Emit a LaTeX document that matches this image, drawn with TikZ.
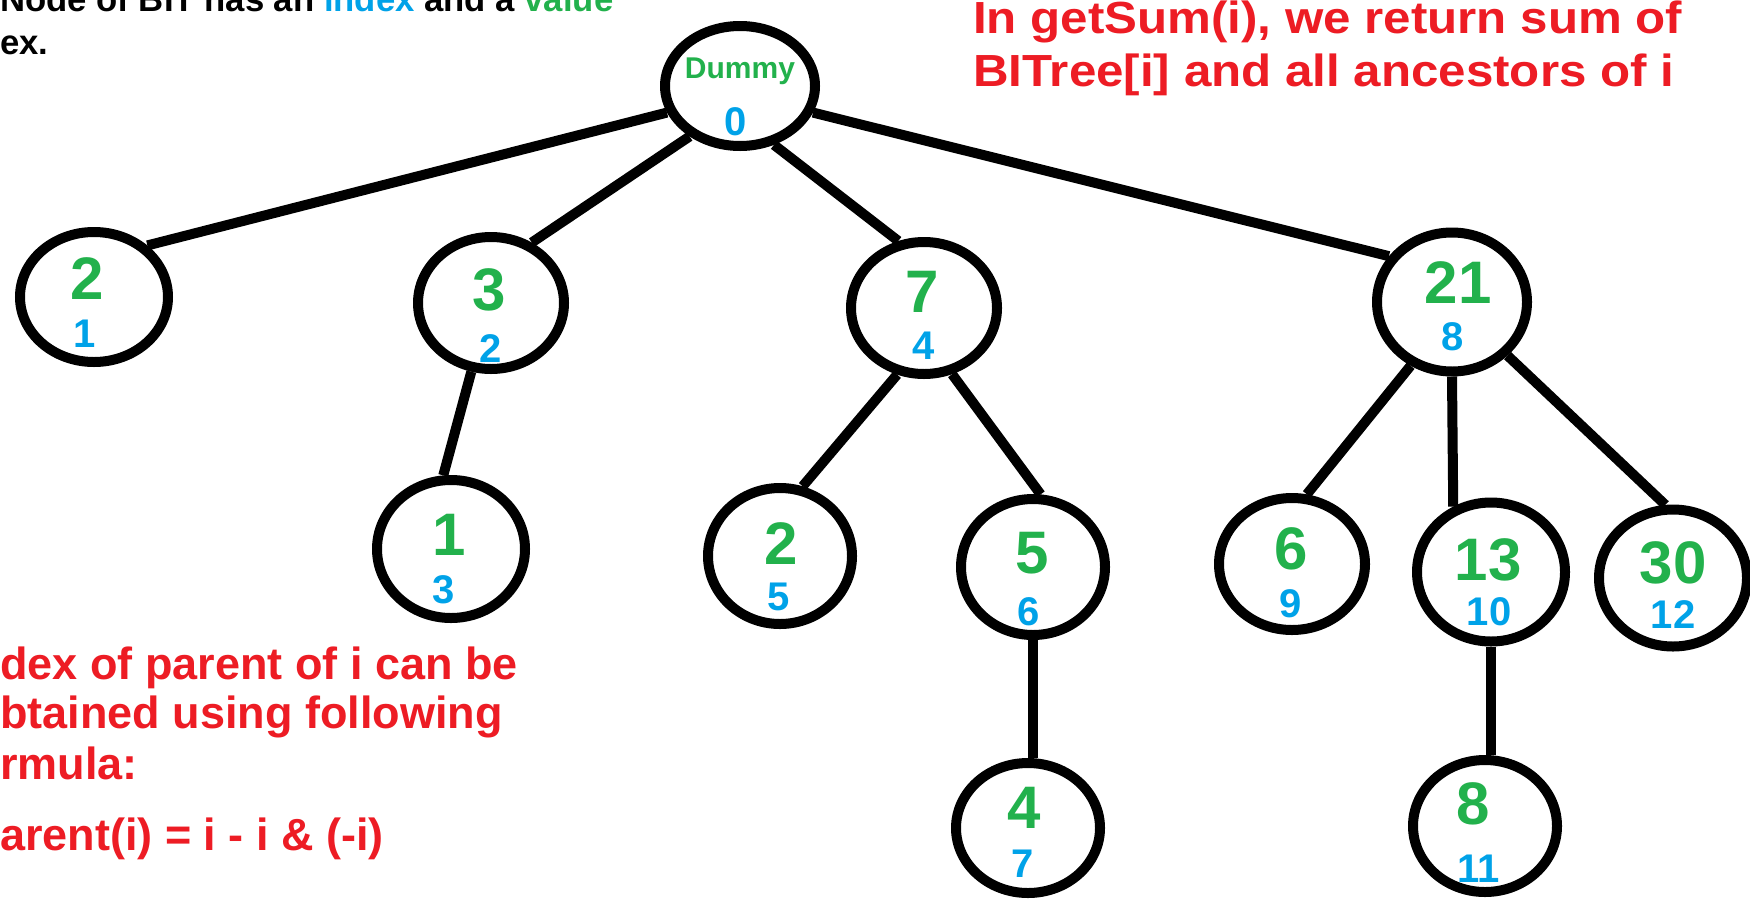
\documentclass[tikz,border=0pt]{standalone}
\usepackage{fontspec}
\setmainfont{Liberation Sans}
\newfontfamily\widefont[FakeStretch=1.095]{Liberation Sans}
\usetikzlibrary{shapes.geometric}
\definecolor{pgreen}{HTML}{22B14C}
\definecolor{pblue}{HTML}{00A2E8}
\definecolor{pred}{HTML}{ED1C24}
\tikzset{
  bnode/.style={ellipse, draw=black, line width=10pt, inner sep=0pt},
  val/.style={anchor=base, inner sep=0pt, text=pgreen, font=\bfseries\fontsize{60}{60}\selectfont},
  idx/.style={anchor=base, inner sep=0pt, text=pblue, font=\bfseries\fontsize{40}{40}\selectfont},
  link/.style={line width=10pt},
  note/.style={anchor=base west, inner sep=0pt, text=pred, font=\bfseries\fontsize{45}{45}\selectfont},
  widenote/.style={anchor=base west, inner sep=0pt, text=pred, font=\widefont\bfseries\fontsize{45}{45}\selectfont},
  info/.style={anchor=base west, inner sep=0pt, text=black, font=\bfseries\fontsize{34.7}{34.7}\selectfont},
}
\begin{document}
\begin{tikzpicture}[x=1pt, y=-1pt]
\useasboundingbox (0,0) rectangle (1750,900);
\fill[white] (0,0) rectangle (1750,900);

% tree nodes
\node[bnode, minimum width=150pt, minimum height=120pt] (d)   at (740,86)  {};
\node[bnode, minimum width=148pt, minimum height=130pt] (n1)  at (94,297)  {};
\node[bnode, minimum width=146pt, minimum height=132pt] (n2)  at (491,303) {};
\node[bnode, minimum width=146pt, minimum height=132pt] (n4)  at (924,308) {};
\node[bnode, minimum width=150pt, minimum height=139pt] (n8)  at (1452,302) {};
\node[bnode, minimum width=148pt, minimum height=138pt] (n3)  at (451,549) {};
\node[bnode, minimum width=144pt, minimum height=136pt] (n5)  at (780,556) {};
\node[bnode, minimum width=144pt, minimum height=136pt] (n6)  at (1033,567) {};
\node[bnode, minimum width=146pt, minimum height=132pt] (n9)  at (1292,564) {};
\node[bnode, minimum width=148pt, minimum height=139pt] (n10) at (1491,572) {};
\node[bnode, minimum width=148pt, minimum height=137pt] (n12) at (1673,578) {};
\node[bnode, minimum width=144pt, minimum height=130pt] (n7)  at (1028,828) {};
\node[bnode, minimum width=144pt, minimum height=132pt] (n11) at (1485,826) {};

% connectors
\draw[link] (d.200) -- (n1.44);
\draw[link] (d.225) -- (n2.56);
\draw[link] (d.300) -- (n4.111);
\draw[link] (d.340) -- (n8.144);
\draw[link] (n2.254) -- (n3.96);
\draw[link] (n4.248) -- (n5.72);
\draw[link] (n4.293) -- (n6.84);
\draw[link] (n8.237) -- (n9.78);
\draw[link] (n8.270) -- (n10.120);
\draw[link] (n8.316) -- (n12.96);
\draw[link] (n6.south) -- (n6.south |- n7.north);
\draw[link] (n10.south) -- (n10.south |- n11.north);

% labels inside nodes
\node[anchor=base, inner sep=0pt, text=pgreen, font=\bfseries\fontsize{30}{30}\selectfont] (dv) at (740,78) {Dummy};
\node[idx] (di) at (736,135) {0};
\node[val] (v1) at (87,299) {2};      \node[idx] (i1) at (85,347) {1};
\node[val] (v2) at (489,310) {3};     \node[idx] (i2) at (491,362) {2};
\node[val] (v4) at (922,312) {7};     \node[idx] (i4) at (924,359) {4};
\node[val] (v8) at (1458,303) {21};   \node[idx] (i8) at (1453,350) {8};
\node[val] (v3) at (449,555) {1};     \node[idx] (i3) at (444,603) {3};
\node[val] (v5) at (781,564) {2};     \node[idx] (i5) at (779,610) {5};
\node[val] (v6) at (1032,573) {5};    \node[idx] (i6) at (1029,625) {6};
\node[val] (v9) at (1291,569) {6};    \node[idx] (i9) at (1291,617) {9};
\node[val] (v10) at (1488,580) {13};  \node[idx] (i10) at (1489,625) {10};
\node[val] (v12) at (1673,583) {30};  \node[idx] (i12) at (1673,628) {12};
\node[val] (v7) at (1024,828) {4};    \node[idx] (i7) at (1023,877) {7};
\node[val] (v11) at (1473,824) {8};   \node[idx] (i11) at (1479,882) {11};

% texts
\node[info] (t1) at (0,11) {Node of BIT has an \textcolor{pblue}{index} and a \textcolor{pgreen}{value}};
\node[info] (t2) at (0,54) {ex.};
\node[widenote] (r1) at (973,33) {In getSum(i), we return sum of};
\node[widenote] (r2) at (973,86) {BITree[i] and all ancestors of i};
\node[note] (b1) at (0,679) {dex of parent of i can be};
\node[note] (b2) at (0,728) {btained using following};
\node[note] (b3) at (0,779) {rmula:};
\node[note] (b4) at (0,850) {arent(i) = i - i \& (-i)};
\end{tikzpicture}
\end{document}
